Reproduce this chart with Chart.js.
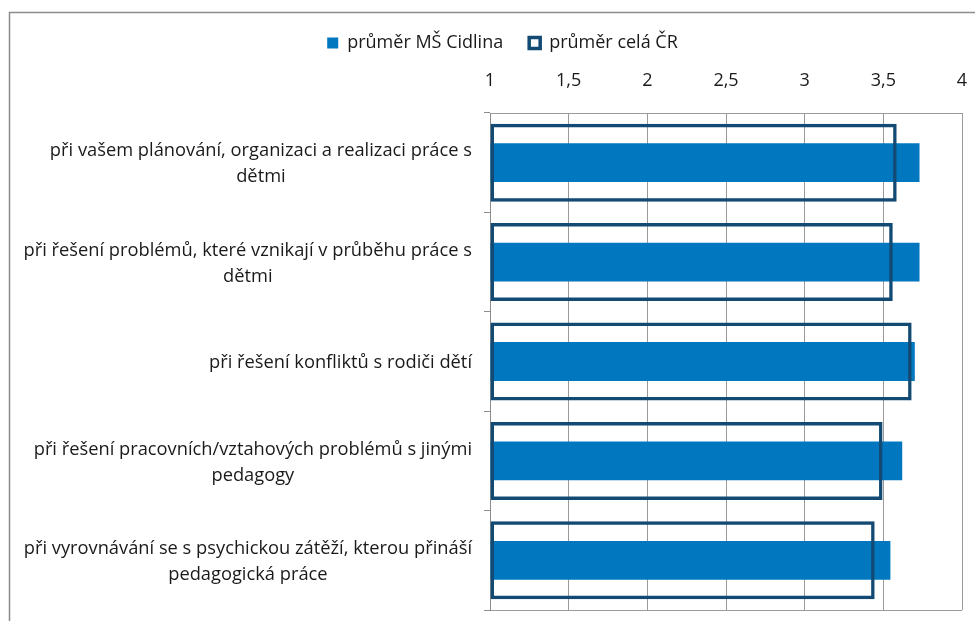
<!DOCTYPE html>
<html>
<head>
<meta charset="utf-8">
<script src="https://cdn.jsdelivr.net/npm/chart.js@4.4.0/dist/chart.umd.min.js"></script>
<style>
    html, body { margin: 0; padding: 0; background: #fff; }
    #wrap { width: 975px; height: 621px; position: relative; }
</style>
</head>
<body>
<div id="wrap"><canvas id="graf"></canvas></div>
<script>
// kategorie (popisky osy y), kazda po radcich
const categories = [
    ['při vašem plánování, organizaci a realizaci práce s', 'dětmi'],
    ['při řešení problémů, které vznikají v průběhu práce s', 'dětmi'],
    ['při řešení konfliktů s rodiči dětí'],
    ['při řešení pracovních/vztahových problémů s jinými', 'pedagogy'],
    ['při vyrovnávání se s psychickou zátěží, kterou přináší', 'pedagogická práce']
];
const seriesNames = ['průměr MŠ Cidlina', 'průměr celá ČR'];
const cidlina = [3.73, 3.73, 3.70, 3.62, 3.545];
const celaCR = [3.585, 3.56, 3.68, 3.495, 3.445];
const xTicks = [1, 1.5, 2, 2.5, 3, 3.5, 4];

const FONT = "'Open Sans', sans-serif";
const FONT_SIZE = 18;
const TEXT_COLOR = '#1a1a1a';
const GRID_COLOR = '#9a9a9a';
const LINE_H = 26;

Chart.defaults.font.family = FONT;
Chart.defaults.font.size = FONT_SIZE;
Chart.defaults.color = TEXT_COLOR;

// popisky kategorii: blok zarovnany vpravo, radky na stred bloku
const categoryLabels = {
    id: 'categoryLabels',
    afterDraw(chart) {
        const ctx = chart.ctx;
        const yScale = chart.scales.y;
        const right = chart.chartArea.left - 18;
        ctx.save();
        ctx.font = '18.3px ' + FONT;
        ctx.fillStyle = TEXT_COLOR;
        ctx.textAlign = 'center';
        ctx.textBaseline = 'middle';
        categories.forEach(function (lines, i) {
            const widest = Math.max(...lines.map(l => ctx.measureText(l).width));
            const cx = right - widest / 2;
            const cy = yScale.getPixelForValue(i) + 1.5;
            const start = cy - (lines.length - 1) * LINE_H / 2;
            lines.forEach(function (l, j) {
                ctx.fillText(l, cx, start + j * LINE_H);
            });
        });
        ctx.restore();
    }
};

// ramecek grafu (levy a horni okraj)
const chartFrame = {
    id: 'chartFrame',
    beforeDraw(chart) {
        const ctx = chart.ctx;
        ctx.save();
        ctx.strokeStyle = '#8c8c8c';
        ctx.lineWidth = 1.5;
        ctx.beginPath();
        ctx.moveTo(9.5, chart.height + 5);
        ctx.lineTo(9.5, 12.5);
        ctx.lineTo(chart.width + 5, 12.5);
        ctx.stroke();
        ctx.restore();
    }
};

const data = {
    labels: categories.map(l => l.join(' ')),
    datasets: [
        {
            label: seriesNames[0],
            data: cidlina,
            backgroundColor: '#0077BF',
            borderWidth: 0,
            barPercentage: 0.39,
            categoryPercentage: 1,
            grouped: false,
            base: 1,
            order: 1
        },
        {
            label: seriesNames[1],
            data: celaCR,
            backgroundColor: 'rgba(0,0,0,0)',
            borderColor: '#124A73',
            borderWidth: 3.5,
            borderSkipped: false,
            barPercentage: 0.785,
            categoryPercentage: 1,
            grouped: false,
            base: 1,
            order: 0
        }
    ]
};

const config = {
    type: 'bar',
    data: data,
    options: {
        indexAxis: 'y',
        responsive: true,
        maintainAspectRatio: false,
        animation: false,
        layout: {
            padding: { left: 30, right: 0, top: 8, bottom: 11 }
        },
        plugins: {
            tooltip: { enabled: false },
            legend: {
                position: 'top',
                onClick: null,
                labels: {
                    boxWidth: 11,
                    boxHeight: 11,
                    padding: 26,
                    sort: (a, b) => a.datasetIndex - b.datasetIndex
                }
            }
        },
        scales: {
            x: {
                type: 'linear',
                position: 'top',
                min: 1,
                max: 4,
                afterBuildTicks: function (scale) {
                    scale.ticks = xTicks.map(v => ({ value: v }));
                },
                afterFit: function (scale) {
                    scale.paddingLeft = 0;
                    scale.paddingRight = 13;
                    scale.height = 51;
                },
                ticks: {
                    padding: 21,
                    callback: v => String(v).replace('.', ',')
                },
                grid: { color: GRID_COLOR, drawTicks: false },
                border: { color: GRID_COLOR }
            },
            y: {
                type: 'category',
                position: 'left',
                offset: true,
                ticks: { display: false },
                grid: {
                    offset: true,
                    tickLength: 6,
                    tickColor: '#8c8c8c',
                    color: ctx => ctx.type === 'scale' ? GRID_COLOR : 'rgba(0,0,0,0)'
                },
                border: { color: '#8c8c8c' },
                afterFit: function (scale) {
                    scale.width = 460;
                }
            }
        }
    },
    plugins: [chartFrame, categoryLabels]
};

new Chart(document.getElementById('graf'), config);
</script>
</body>
</html>
